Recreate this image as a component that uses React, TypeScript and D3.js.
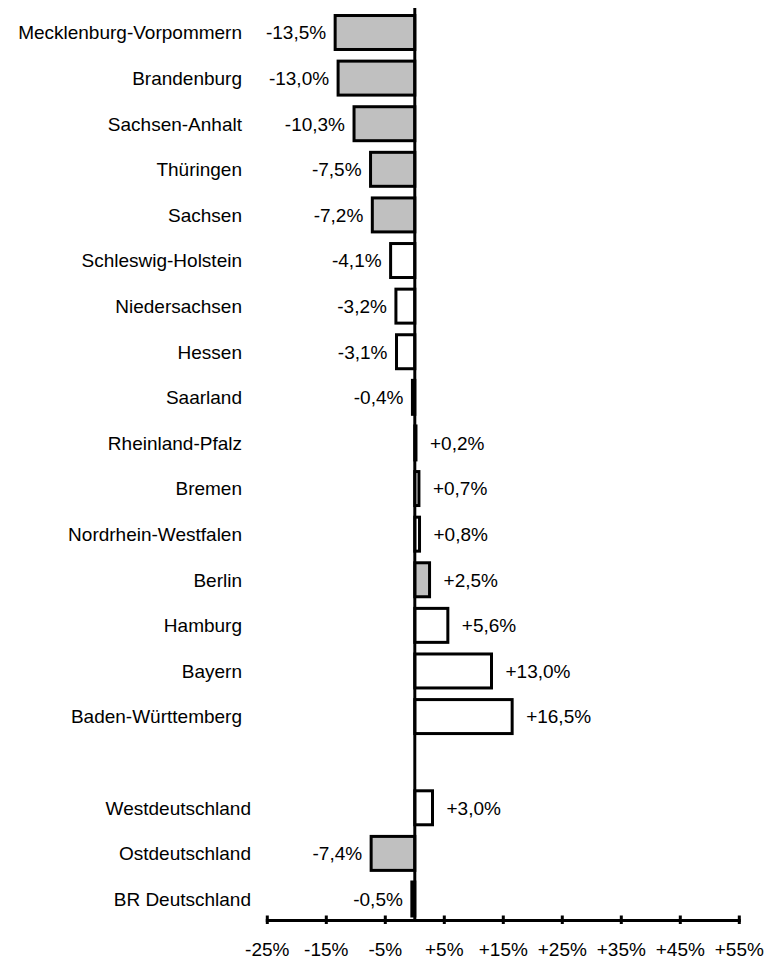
import React from "react";
import * as d3 from "d3";

const stateNames = [
  "Mecklenburg-Vorpommern", "Brandenburg", "Sachsen-Anhalt", "Thüringen", "Sachsen",
  "Schleswig-Holstein", "Niedersachsen", "Hessen", "Saarland", "Rheinland-Pfalz",
  "Bremen", "Nordrhein-Westfalen", "Berlin", "Hamburg", "Bayern", "Baden-Württemberg",
];
const stateValues = [-13.5, -13.0, -10.3, -7.5, -7.2, -4.1, -3.2, -3.1, -0.4, 0.2, 0.7, 0.8, 2.5, 5.6, 13.0, 16.5];
const stateEast = [true, true, true, true, true, false, false, false, false, false, false, false, true, false, false, false];

const totalNames = ["Westdeutschland", "Ostdeutschland", "BR Deutschland"];
const totalValues = [3.0, -7.4, -0.5];
const totalEast = [false, true, false];

const tickValues = [-25, -15, -5, 5, 15, 25, 35, 45, 55];

const fmt = (v: number) => (v > 0 ? "+" : v < 0 ? "-" : "") + Math.abs(v).toFixed(1).replace(".", ",") + "%";
const fmtTick = (v: number) => (v > 0 ? "+" : v < 0 ? "-" : "") + Math.abs(v) + "%";

export default function App() {
  const W = 766, H = 959;
  const font = "'Liberation Sans', Arial, sans-serif";
  const x = d3.scaleLinear().domain([-25, 55]).range([267.3, 739.3]);
  const rows = [
    ...stateNames.map((n, i) => ({ key: n, name: n, v: stateValues[i], east: stateEast[i], total: false })),
    { key: "_gap", name: "", v: NaN, east: false, total: false },
    ...totalNames.map((n, i) => ({ key: n, name: n, v: totalValues[i], east: totalEast[i], total: true })),
  ];
  const y = d3.scaleBand<string>()
    .domain(rows.map((r) => r.key))
    .range([32.5 - 22.8, 899 + 22.8])
    .paddingInner(0.255)
    .paddingOuter(0.1275);
  const x0 = x(0);
  const axisY = 920.5;
  return (
    <svg width={W} height={H} style={{ position: "absolute", left: 0, top: 0 }} fontFamily={font}>
      <rect width={W} height={H} fill="#fff" />
      {rows.filter((r) => r.key !== "_gap").map((r) => {
        const yc = (y(r.key) as number) + y.bandwidth() / 2;
        const xl = Math.min(x(r.v), x0);
        const w = Math.abs(x(r.v) - x0);
        return (
          <g key={r.key}>
            <rect x={xl} y={y(r.key)} width={w} height={y.bandwidth()}
              fill={r.east ? "#c0c0c0" : "#fff"} stroke="#000" strokeWidth={3} />
            <text x={r.total ? 251 : 242} y={yc + 6.8} textAnchor="end" fontSize={19} fill="#000">{r.name}</text>
            <text x={r.v < 0 ? x(r.v) - 9 : x(r.v) + 14} y={yc + 6.8}
              textAnchor={r.v < 0 ? "end" : "start"} fontSize={19} fill="#000">{fmt(r.v)}</text>
          </g>
        );
      })}
      <line x1={x0} x2={x0} y1={8} y2={axisY} stroke="#000" strokeWidth={3} />
      <line x1={x(-25) - 1.5} x2={x(55) + 1.5} y1={axisY} y2={axisY} stroke="#000" strokeWidth={3} />
      {tickValues.map((t) => (
        <g key={t}>
          <line x1={x(t)} x2={x(t)} y1={915.5} y2={924} stroke="#000" strokeWidth={3} />
          <text x={x(t)} y={956} textAnchor="middle" fontSize={19} fill="#000">{fmtTick(t)}</text>
        </g>
      ))}
    </svg>
  );
}
